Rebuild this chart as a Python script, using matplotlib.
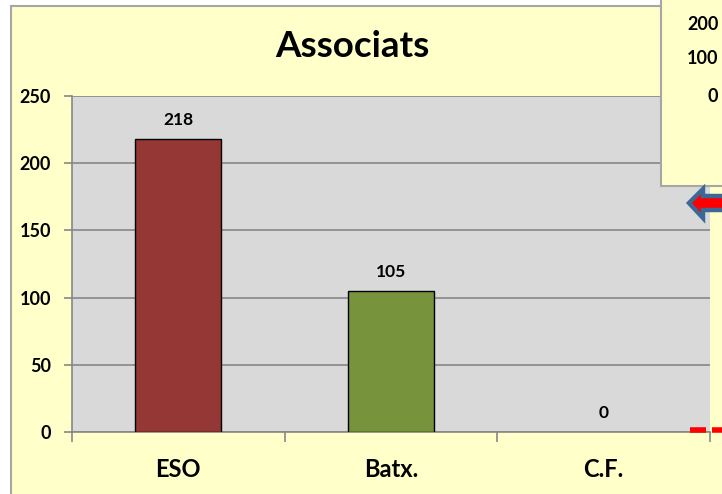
import matplotlib
matplotlib.use("Agg")
import matplotlib.pyplot as plt
from matplotlib.patches import Rectangle, Polygon
from matplotlib.lines import Line2D

categories = ["ESO", "Batx.", "C.F."]
values = [218, 105, 0]
bar_colors = ["#953735", "#77933C", "#4F81BD"]
yticks = [0, 50, 100, 150, 200, 250]
inset_labels = ["200", "100", "0"]

W, H = 722, 494
plt.rcParams['font.family'] = ['Lato', 'DejaVu Sans']
fig = plt.figure(figsize=(W / 100, H / 100), dpi=100, facecolor="white")

def fx(x):
    return x / W

def fy(y):
    return 1 - y / H

YELLOW = "#FFFFC9"
# chart area
fig.add_artist(Rectangle((fx(11), fy(500)), fx(800), fy(6) - fy(500), transform=fig.transFigure,
                         facecolor=YELLOW, edgecolor="#A6A6A6", lw=1.5, zorder=0))

ax = fig.add_axes([fx(72), fy(432), fx(710) - fx(72), fy(96) - fy(432)])
ax.set_facecolor("#D9D9D9")
x = list(range(len(categories)))
edge = ["black" if v > 0 else "none" for v in values]
bars = ax.bar(x, values, width=0.405, color=bar_colors, edgecolor=edge, linewidth=1.0, zorder=3)
ax.bar_label(bars, labels=[str(v) for v in values], padding=8, fontsize=12.5, fontweight="bold", color="black")
ax.set_xlim(-0.5, 2.5)
ax.set_ylim(0, 250)
ax.set_yticks(yticks)
ax.set_yticklabels([str(t) for t in yticks], fontsize=13, fontweight="bold")
ax.yaxis.grid(True, color="#878787", lw=1.2, zorder=1)
ax.set_axisbelow(True)
ax.set_xticks([-0.5, 0.5, 1.5, 2.5])
ax.set_xticklabels([])
ax.set_xticks(x, minor=True)
ax.set_xticklabels(categories, minor=True, fontsize=17, fontweight="bold")
for lab in ax.get_xticklabels(minor=True):
    lab.set_va("baseline")
ax.tick_params(axis="x", which="major", length=7, width=1.2, color="#878787", direction="out")
ax.tick_params(axis="x", which="minor", length=0, pad=32.4)
ax.tick_params(axis="y", length=6, width=1.2, color="#878787", pad=9)
for s in ["top", "right"]:
    ax.spines[s].set_visible(False)
for s in ["left", "bottom"]:
    ax.spines[s].set_color("#878787")
    ax.spines[s].set_linewidth(1.2)

fig.text(fx(352), fy(57), "Associats", fontsize=26.5, fontweight="bold", ha="center", va="baseline")

# overlay box top-right
fig.add_artist(Rectangle((fx(661), fy(186)), fx(100), fy(-10) - fy(186), transform=fig.transFigure,
                         facecolor=YELLOW, edgecolor="#A6A6A6", lw=1.5, zorder=10))
for lab, yy, xx in zip(inset_labels, [25, 59, 97], [687, 687, 708]):
    fig.text(fx(xx), fy(yy), lab, fontsize=13, fontweight="bold", ha="left", va="center", zorder=11)

# arrow
pts = [(689, 203), (703, 189), (703, 196), (730, 196), (730, 210), (703, 210), (703, 218)]
fig.add_artist(Polygon([(fx(a), fy(b)) for a, b in pts], closed=True, transform=fig.transFigure,
                       facecolor="#FF0000", edgecolor="#3C6895", lw=3.2, zorder=12))

# red dashed segments
for x0, x1 in [(690, 706), (712, 730)]:
    fig.add_artist(Line2D([fx(x0), fx(x1)], [fy(430), fy(430)], transform=fig.transFigure,
                          color="#FF0000", lw=4, solid_capstyle="butt", zorder=12))

fig.savefig("out.png", dpi=100, facecolor="white")
